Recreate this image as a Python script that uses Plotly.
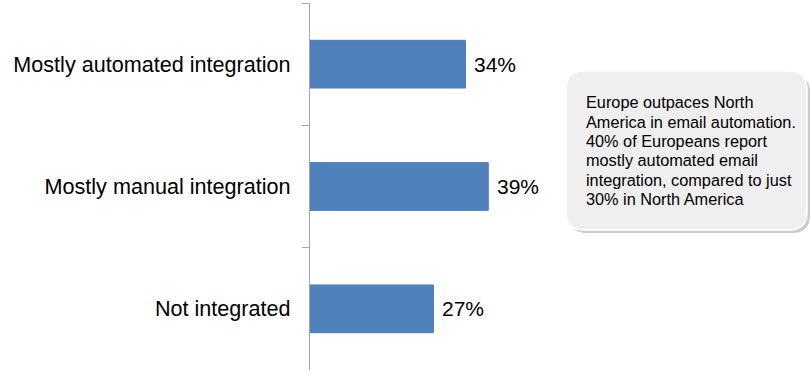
import plotly.graph_objects as go

categories = ["Mostly automated integration", "Mostly manual integration", "Not integrated"]
values = [34, 39, 27]
value_labels = ["34%", "39%", "27%"]
note_lines = [
    "Europe outpaces North",
    "America in email automation.",
    "40% of Europeans report",
    "mostly automated email",
    "integration, compared to just",
    "30% in North America",
]

W, H = 811, 375
L, R, T, B = 310, 0, 3, 5
pw, ph = W - L - R, H - T - B

def px(x):
    return (x - L) / pw

def py(y):
    return (H - B - y) / ph

fig = go.Figure()
fig.add_trace(go.Bar(
    y=categories, x=values, orientation="h",
    marker=dict(color="#4F81BD", line=dict(color="#4A7DBA", width=1)),
    width=0.39,
    hoverinfo="skip",
))

def rounded(x0, y0, x1, y1, r):
    X0, X1 = px(x0), px(x1)
    Y0, Y1 = py(y0), py(y1)
    rx, ry = r / pw, r / ph
    return (f"M {X0+rx},{Y0} L {X1-rx},{Y0} Q {X1},{Y0} {X1},{Y0-ry} "
            f"L {X1},{Y1+ry} Q {X1},{Y1} {X1-rx},{Y1} L {X0+rx},{Y1} "
            f"Q {X0},{Y1} {X0},{Y1+ry} L {X0},{Y0-ry} Q {X0},{Y0} {X0+rx},{Y0} Z")

shapes = [
    dict(type="path", xref="paper", yref="paper", layer="below",
         path=rounded(569, 74, 810, 233, 18), fillcolor="rgba(0,0,0,0.20)",
         line=dict(width=0)),
    dict(type="path", xref="paper", yref="paper", layer="below",
         path=rounded(566, 71, 807, 230, 18), fillcolor="#EFEFEF",
         line=dict(color="#FFFFFF", width=1.5)),
]

annotations = []
for cat, v, lab in zip(categories, values, value_labels):
    annotations.append(dict(
        x=v, y=cat, xref="x", yref="y", text=lab, showarrow=False,
        xanchor="left", yanchor="middle", xshift=7,
        font=dict(family="Liberation Sans, Arial", size=21, color="#000000"),
    ))
for i, line in enumerate(note_lines):
    annotations.append(dict(
        xref="paper", yref="paper", x=px(584), y=py(102.5 + i * 19.3),
        xanchor="left", yanchor="middle", align="left", showarrow=False,
        text=line,
        font=dict(family="Liberation Sans, Arial", size=16.3, color="#000000"),
    ))

fig.update_layout(
    width=W, height=H,
    margin=dict(l=L, r=R, t=T, b=B),
    paper_bgcolor="white", plot_bgcolor="white",
    showlegend=False,
    shapes=shapes,
    font=dict(family="Liberation Sans, Arial", color="#000000"),
    xaxis=dict(range=[0, 109.6], visible=False, fixedrange=True),
    yaxis=dict(
        autorange="reversed", type="category",
        showline=True, linecolor="#A6A6A6", linewidth=1.2,
        ticks="outside", tickson="boundaries", ticklen=7, tickcolor="#A6A6A6",
        tickfont=dict(size=21.6, color="#000000"),
        ticklabelstandoff=14,
        showgrid=False, zeroline=False, fixedrange=True,
    ),
    annotations=annotations,
)

fig.write_html("out.html")
